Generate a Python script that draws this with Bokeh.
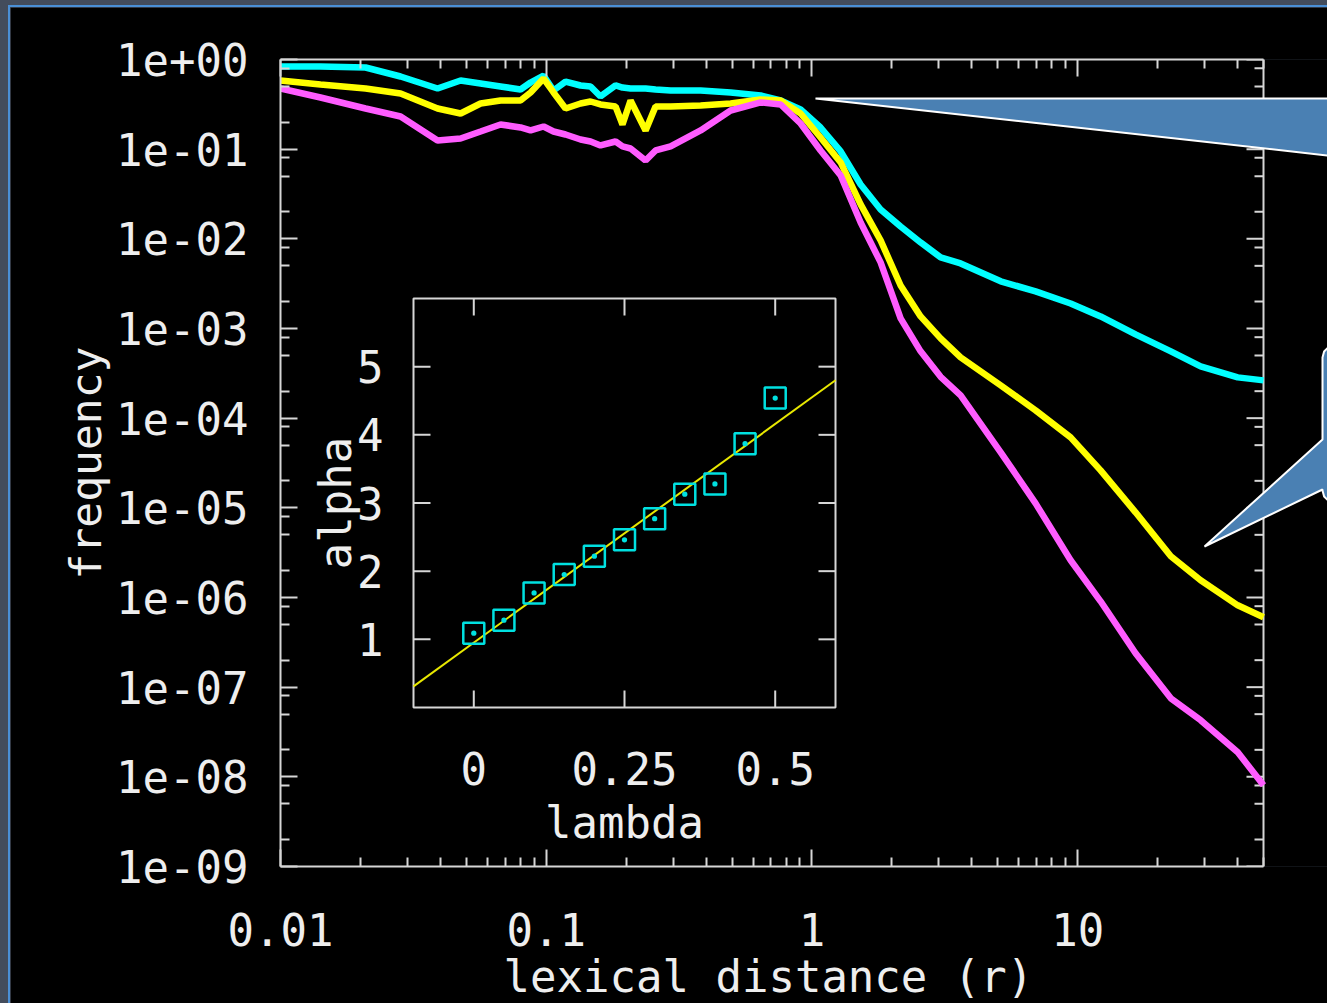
import math
from bokeh.plotting import figure
from bokeh.layouts import column
from bokeh.models import (Range1d, LinearScale, LogAxis, FixedTicker, CustomJSTickFormatter,
                          PolyAnnotation, Title)
from bokeh.core.properties import value
from bokeh.embed import file_html
from bokeh.resources import INLINE

# ---------------- data ----------------
r = [0.01, 0.01414, 0.0209, 0.0283, 0.039, 0.0476, 0.0566, 0.0673, 0.080, 0.0873,
     0.0977, 0.1065, 0.1182, 0.1346, 0.1468, 0.160, 0.1823, 0.1936, 0.2076, 0.2365,
     0.2578, 0.2937, 0.381, 0.494, 0.641, 0.762, 0.906, 1.077, 1.282, 1.524,
     1.812, 2.155, 2.563, 3.048, 3.625, 5.13, 6.94, 9.40, 12.19, 16.5,
     22.4, 29.0, 40.0, 50.0]

freq_cyan = [0.835, 0.835, 0.814, 0.646, 0.475, 0.583, 0.540, 0.500, 0.463, 0.554,
             0.663, 0.451, 0.568, 0.513, 0.500, 0.387, 0.513, 0.487, 0.475, 0.475,
             0.463, 0.451, 0.451, 0.429, 0.397, 0.349, 0.277, 0.1745, 0.0943, 0.0404,
             0.02127, 0.01374, 0.00912, 0.0062, 0.00532, 0.00336, 0.00259, 0.00190, 0.001364, 0.000859,
             0.000556, 0.000378, 0.000285, 0.000264]

freq_yellow = [0.583, 0.526, 0.475, 0.418, 0.284, 0.250, 0.323, 0.349, 0.349, 0.429,
               0.614, 0.429, 0.284, 0.323, 0.340, 0.315, 0.299, 0.1886, 0.349, 0.1616,
               0.299, 0.299, 0.307, 0.323, 0.358, 0.349, 0.250, 0.135, 0.0711, 0.02418,
               0.0096, 0.00302, 0.001364, 0.000775, 0.000476, 0.000232, 0.0001222, 6.11e-5, 2.62e-5, 8.91e-6,
               2.88e-6, 1.555e-6, 8.18e-7, 6.02e-7]

freq_magenta = [0.475, 0.377, 0.284, 0.2314, 0.125, 0.1316, 0.1575, 0.1886, 0.1745, 0.1616,
                0.179, 0.1575, 0.1458, 0.1282, 0.1218, 0.110, 0.1218, 0.1072, 0.1018, 0.0748,
                0.0967, 0.1072, 0.1616, 0.270, 0.332, 0.315, 0.1934, 0.0967, 0.0509, 0.01524,
                0.00546, 0.001296, 0.000556, 0.000289, 0.0001796, 4.16e-5, 1.122e-5, 2.60e-6, 9.07e-7, 2.387e-7,
                7.52e-8, 4.28e-8, 1.879e-8, 8.06e-9]

x_tick_vals = [0.01, 0.1, 1, 10]
x_tick_labels = ["0.01", "0.1", "1", "10"]
y_tick_vals = [1e-09, 1e-08, 1e-07, 1e-06, 1e-05, 1e-04, 1e-03, 1e-02, 1e-01, 1e+00]
y_tick_labels = ["1e-09", "1e-08", "1e-07", "1e-06", "1e-05", "1e-04", "1e-03", "1e-02", "1e-01", "1e+00"]
X_MIN, X_MAX = 0.01, 50.0
Y_MIN, Y_MAX = 1e-9, 1.0
X_TITLE = "lexical distance (r)"
Y_TITLE = "frequency"

# inset: alpha vs lambda
lam = [0.0, 0.05, 0.10, 0.15, 0.20, 0.25, 0.30, 0.35, 0.40, 0.45, 0.50]
alpha = [1.09, 1.28, 1.68, 1.95, 2.22, 2.46, 2.77, 3.13, 3.28, 3.87, 4.54]
fit_lam = [-0.1, 0.6]
fit_alpha = [0.31, 4.80]
inset_x_ticks = [0.0, 0.25, 0.5]
inset_x_labels = ["0", "0.25", "0.5"]
inset_y_ticks = [1, 2, 3, 4, 5]
inset_y_labels = ["1", "2", "3", "4", "5"]
INSET_X = (-0.1, 0.6)
INSET_Y = (0.0, 6.0)

# ---------------- layout / style (page pixels) ----------------
PW, PH = 1327, 1003
OX, OY = 10, 7                               # figure offset inside the slide frame
FL, FT, FB = 280, 59, 866                    # main frame left/top/bottom
DR = 1263                                    # page x of X_MAX (right edge of the plot box)
FR = PW                                      # frame extends to the page edge (room for callouts)
IL, IR, IT, IB = 413, 835, 298, 707          # inset box
FONT = "DejaVu Sans Mono"
TXT = "#eeeeee"
AX = "#d6d6d6"

lx0, lx1 = math.log10(X_MIN), math.log10(X_MAX)
x_end = 10 ** (lx0 + (lx1 - lx0) * (FR - FL) / (DR - FL))

p = figure(width=PW - OX, height=PH - OY, x_axis_type="log", y_axis_type="log",
           x_range=Range1d(X_MIN, x_end), y_range=Range1d(Y_MIN, Y_MAX),
           output_backend="svg", toolbar_location=None,
           min_border_left=FL - OX, min_border_right=0,
           min_border_top=FT - OY, min_border_bottom=PH - FB,
           background_fill_color="black", border_fill_color="black",
           outline_line_color=None)
p.margin = (OY, 0, 0, OX)
p.grid.visible = False

x_minor = [k * 10.0 ** e for e in range(-2, 2) for k in range(2, 10) if k * 10.0 ** e <= X_MAX]
y_minor = [k * 10.0 ** e for e in range(-9, 0) for k in (2, 5, 8)]


def style_axis(ax, ticks, minors):
    ax.ticker = FixedTicker(ticks=ticks, minor_ticks=minors)
    ax.axis_line_color = AX
    ax.axis_line_width = 2
    ax.major_tick_line_color = AX
    ax.major_tick_line_width = 2
    ax.major_tick_in = 17
    ax.major_tick_out = 0
    ax.minor_tick_line_color = AX
    ax.minor_tick_line_width = 2
    ax.minor_tick_in = 9
    ax.minor_tick_out = 0
    ax.major_label_text_font = FONT
    ax.major_label_text_font_size = "44px"
    ax.major_label_text_color = TXT
    ax.axis_label_text_font = FONT
    ax.axis_label_text_font_size = "43px"
    ax.axis_label_text_font_style = "normal"
    ax.axis_label_text_color = TXT


xb = p.xaxis[0]
style_axis(xb, x_tick_vals, x_minor)
xb.bounds = (X_MIN, X_MAX)
xb.major_label_overrides = {v: s for v, s in zip(x_tick_vals, x_tick_labels)}
xb.major_label_standoff = 46

# x title placed under the plot box (the frame itself runs on to the page edge)
p.add_layout(Title(text=X_TITLE, align="left", offset=223, standoff=0,
                   text_font=FONT, text_font_size="44px", text_font_style="normal",
                   text_color=TXT), "below")

yl = p.yaxis[0]
style_axis(yl, y_tick_vals, y_minor)
yl.major_label_overrides = {v: s for v, s in zip(y_tick_vals, y_tick_labels)}
yl.major_label_standoff = 32
yl.axis_label = Y_TITLE
yl.axis_label_standoff = 2

xt = LogAxis(bounds=(X_MIN, X_MAX))
style_axis(xt, x_tick_vals, x_minor)
xt.formatter = CustomJSTickFormatter(code="return ''")
xt.major_label_text_font_size = "8px"
xt.major_label_standoff = 0
p.add_layout(xt, "above")

# right-hand mirror axis at X_MAX (inside the extended frame)
p.segment(x0=[X_MAX], y0=[Y_MIN], x1=[X_MAX], y1=[Y_MAX], line_color=AX, line_width=2)
p.ray(x=[X_MAX] * len(y_tick_vals), y=y_tick_vals, length=17, length_units="screen",
      angle=math.pi, line_color=AX, line_width=2)
p.ray(x=[X_MAX] * len(y_minor), y=y_minor, length=9, length_units="screen",
      angle=math.pi, line_color=AX, line_width=2)

# ---------------- main curves ----------------
p.line(r, freq_cyan, line_color="#00ffff", line_width=6.5)
p.line(r, freq_yellow, line_color="#ffff00", line_width=6.5)
p.line(r, freq_magenta, line_color="#ff5cff", line_width=6.5)

# ---------------- inset (linear ranges mapped onto the inset box) ----------------
sx = (INSET_X[1] - INSET_X[0]) / (IR - IL)
sy = (INSET_Y[1] - INSET_Y[0]) / (IB - IT)
p.extra_x_ranges = {"ix": Range1d(INSET_X[0] - (IL - FL) * sx, INSET_X[1] + (FR - IR) * sx)}
p.extra_y_ranges = {"iy": Range1d(INSET_Y[0] - (FB - IB) * sy, INSET_Y[1] + (IT - FT) * sy)}
p.extra_x_scales = {"ix": LinearScale()}
p.extra_y_scales = {"iy": LinearScale()}
kw = dict(x_range_name="ix", y_range_name="iy")

p.quad(left=[INSET_X[0]], right=[INSET_X[1]], bottom=[INSET_Y[0]], top=[INSET_Y[1]],
       fill_color="black", line_color=AX, line_width=2, **kw)
TL = 17
p.ray(x=inset_x_ticks, y=[INSET_Y[0]] * 3, length=TL, length_units="screen",
      angle=math.pi / 2, line_color=AX, line_width=2, **kw)
p.ray(x=inset_x_ticks, y=[INSET_Y[1]] * 3, length=TL, length_units="screen",
      angle=-math.pi / 2, line_color=AX, line_width=2, **kw)
p.ray(x=[INSET_X[0]] * 5, y=inset_y_ticks, length=TL, length_units="screen",
      angle=0, line_color=AX, line_width=2, **kw)
p.ray(x=[INSET_X[1]] * 5, y=inset_y_ticks, length=TL, length_units="screen",
      angle=math.pi, line_color=AX, line_width=2, **kw)

p.line(fit_lam, fit_alpha, line_color="#e8e800", line_width=2, **kw)
p.scatter(lam, alpha, marker="square_dot", size=21, fill_alpha=0,
          line_color="#00e0e0", line_width=2.5, **kw)

tkw = dict(text_font=value(FONT), text_font_size="44px", text_color=TXT)
p.text(x=inset_x_ticks, y=[INSET_Y[0]] * 3, text=inset_x_labels, y_offset=61,
       text_align="center", text_baseline="middle", **tkw, **kw)
p.text(x=[INSET_X[0]] * 5, y=inset_y_ticks, text=inset_y_labels, x_offset=-30,
       text_align="right", text_baseline="middle", **tkw, **kw)
p.text(x=[(INSET_X[0] + INSET_X[1]) / 2], y=[INSET_Y[0]], text=["lambda"], y_offset=115,
       text_align="center", text_baseline="middle", **tkw, **kw)
p.text(x=[INSET_X[0]], y=[(INSET_Y[0] + INSET_Y[1]) / 2], text=["alpha"], x_offset=-78,
       angle=math.pi / 2, text_align="center", text_baseline="middle", **tkw, **kw)

# ---------------- callouts (page pixels -> canvas pixels) ----------------
CALLOUT = "#4a80b3"
c1x = [815, 1332, 1332]
c1y = [98, 98, 155.5]
c2x = [1334, 1328, 1323.6, 1322, 1322, 1204, 1322, 1322, 1323.6, 1328, 1334, 1345, 1345]
c2y = [345, 346.6, 351, 357, 439, 546, 489, 490, 496, 500.4, 502, 502, 345]
for xs, ys in ((c1x, c1y), (c2x, c2y)):
    p.add_layout(PolyAnnotation(xs=[v - OX for v in xs], ys=[v - OY for v in ys],
                                xs_units="canvas", ys_units="canvas",
                                fill_color=CALLOUT, fill_alpha=1, line_color="white",
                                line_alpha=1, line_width=2))

# ---------------- slide frame around the figure ----------------
page = column(p, width=PW, height=PH,
              styles={"background-color": "#434c5c",
                      "background-image": "linear-gradient(#4a8fd6,#4a8fd6),linear-gradient(#4a8fd6,#4a8fd6)",
                      "background-size": "2px 100%,100% 2px",
                      "background-position": "8px 5px,8px 5px",
                      "background-repeat": "no-repeat"})

open("out.html", "w").write(file_html(page, INLINE))
